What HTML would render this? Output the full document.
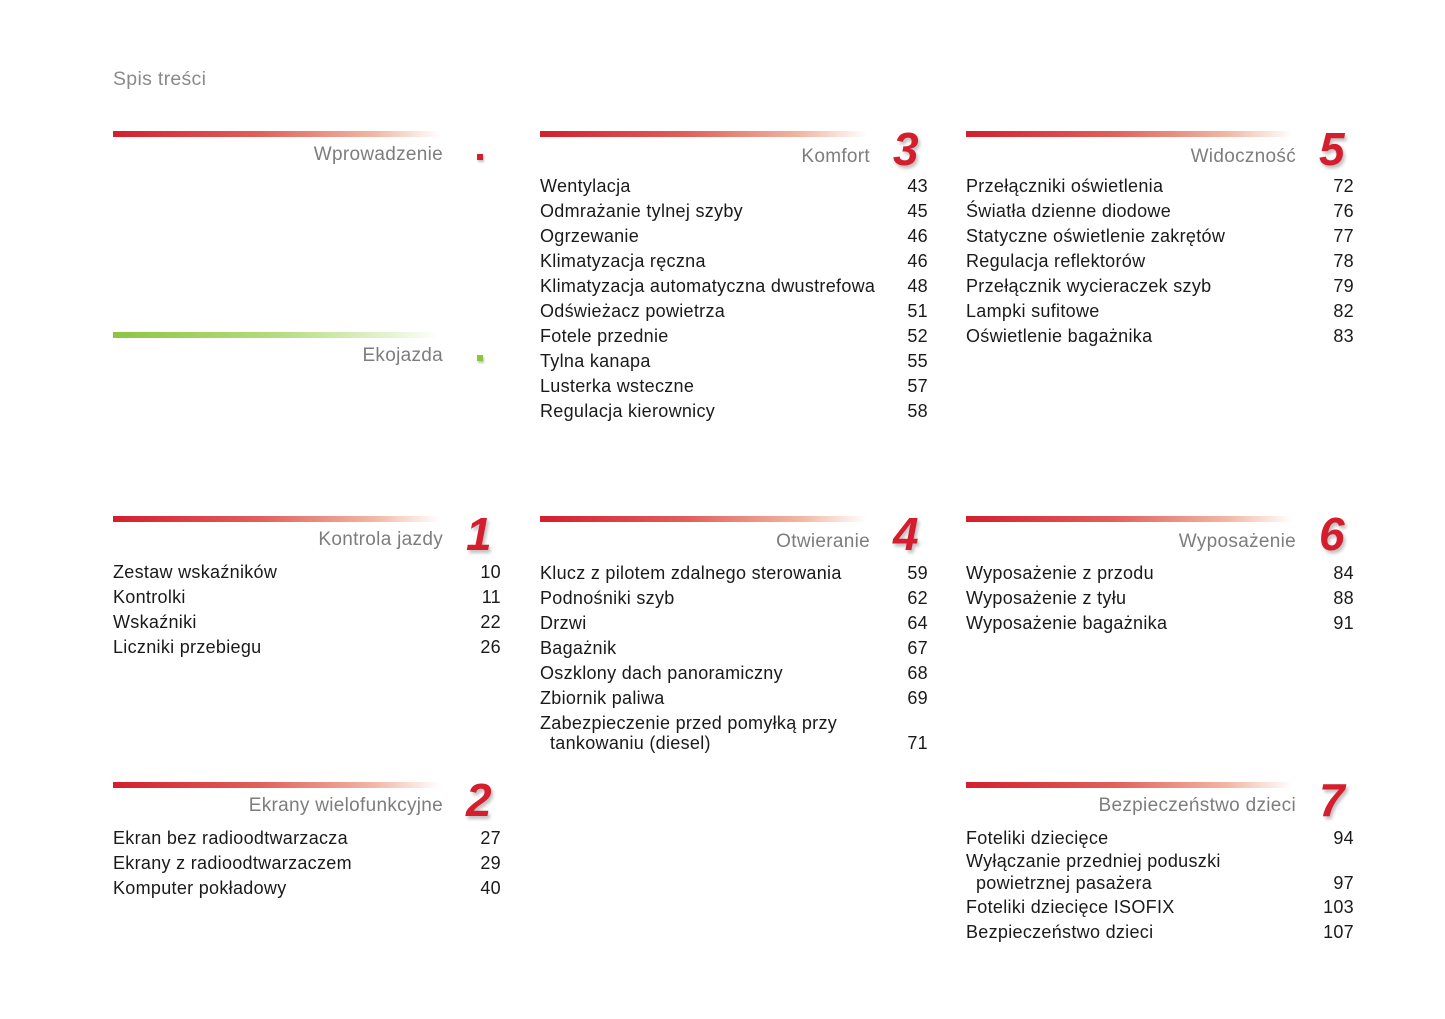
<!DOCTYPE html>
<html><head><meta charset="utf-8"><style>
body{margin:0;width:1445px;height:1019px;background:#fff;position:relative;font-family:"Liberation Sans",sans-serif;overflow:hidden}
.t{position:absolute;left:113px;top:68px;font-size:19.5px;color:#8a8a8a;letter-spacing:0.3px}
.s{position:absolute;width:388px}
.bar{position:absolute;left:0;top:0;width:327px;height:6px;background:linear-gradient(90deg,#d41e2d 0%,#e0605a 45%,#f2b7a5 80%,rgba(255,255,255,0) 100%)}
.bar.g{background:linear-gradient(90deg,#8cc63f 0%,#b5dc7e 50%,#e6f3d3 85%,rgba(255,255,255,0) 100%)}
.h{position:absolute;right:58px;top:13px;font-size:19px;color:#7d7d7d;white-space:nowrap;letter-spacing:0.3px}
.n{position:absolute;left:353px;top:-9px;font-size:46px;font-weight:bold;font-style:italic;color:#d41e2d;text-shadow:2px 3px 3px rgba(0,0,0,.25)}
.dot{position:absolute;left:364px;top:23px;width:6px;height:6px;background:#d41e2d;box-shadow:1px 2px 2px rgba(0,0,0,.25)}
.dot.g{background:#8cc63f}
.l{position:absolute;left:0;top:43px;width:388px;font-size:18px;color:#1a1a1a;letter-spacing:0.3px}
.r{display:flex;justify-content:space-between;height:25px;line-height:25px;white-space:nowrap}
.r2{height:20px;line-height:20px;white-space:nowrap}
.ind{padding-left:10px}
</style></head><body>
<div class="t">Spis treści</div>

<div class="s" style="left:113px;top:131px"><div class="bar"></div><div class="h">Wprowadzenie</div><div class="dot"></div></div>
<div class="s" style="left:113px;top:332px"><div class="bar g"></div><div class="h">Ekojazda</div><div class="dot g"></div></div>

<div class="s" style="left:540px;top:131px"><div class="bar"></div><div class="h" style="top:15px">Komfort</div><div class="n">3</div>
<div class="l">
<div class="r"><span>Wentylacja</span><span>43</span></div>
<div class="r"><span>Odmrażanie tylnej szyby</span><span>45</span></div>
<div class="r"><span>Ogrzewanie</span><span>46</span></div>
<div class="r"><span>Klimatyzacja ręczna</span><span>46</span></div>
<div class="r"><span>Klimatyzacja automatyczna dwustrefowa</span><span>48</span></div>
<div class="r"><span>Odświeżacz powietrza</span><span>51</span></div>
<div class="r"><span>Fotele przednie</span><span>52</span></div>
<div class="r"><span>Tylna kanapa</span><span>55</span></div>
<div class="r"><span>Lusterka wsteczne</span><span>57</span></div>
<div class="r"><span>Regulacja kierownicy</span><span>58</span></div>
</div></div>

<div class="s" style="left:966px;top:131px"><div class="bar"></div><div class="h" style="top:15px">Widoczność</div><div class="n">5</div>
<div class="l">
<div class="r"><span>Przełączniki oświetlenia</span><span>72</span></div>
<div class="r"><span>Światła dzienne diodowe</span><span>76</span></div>
<div class="r"><span>Statyczne oświetlenie zakrętów</span><span>77</span></div>
<div class="r"><span>Regulacja reflektorów</span><span>78</span></div>
<div class="r"><span>Przełącznik wycieraczek szyb</span><span>79</span></div>
<div class="r"><span>Lampki sufitowe</span><span>82</span></div>
<div class="r"><span>Oświetlenie bagażnika</span><span>83</span></div>
</div></div>

<div class="s" style="left:113px;top:516px"><div class="bar"></div><div class="h">Kontrola jazdy</div><div class="n">1</div>
<div class="l" style="top:44px">
<div class="r"><span>Zestaw wskaźników</span><span>10</span></div>
<div class="r"><span>Kontrolki</span><span>11</span></div>
<div class="r"><span>Wskaźniki</span><span>22</span></div>
<div class="r"><span>Liczniki przebiegu</span><span>26</span></div>
</div></div>

<div class="s" style="left:540px;top:516px"><div class="bar"></div><div class="h" style="top:15px">Otwieranie</div><div class="n">4</div>
<div class="l" style="top:45px">
<div class="r"><span>Klucz z pilotem zdalnego sterowania</span><span>59</span></div>
<div class="r"><span>Podnośniki szyb</span><span>62</span></div>
<div class="r"><span>Drzwi</span><span>64</span></div>
<div class="r"><span>Bagażnik</span><span>67</span></div>
<div class="r"><span>Oszklony dach panoramiczny</span><span>68</span></div>
<div class="r"><span>Zbiornik paliwa</span><span>69</span></div>
<div class="r2" style="margin-top:2px">Zabezpieczenie przed pomyłką przy</div>
<div class="r" style="height:20px;line-height:20px"><span class="ind">tankowaniu (diesel)</span><span>71</span></div>
</div></div>

<div class="s" style="left:966px;top:516px"><div class="bar"></div><div class="h" style="top:15px">Wyposażenie</div><div class="n">6</div>
<div class="l" style="top:45px">
<div class="r"><span>Wyposażenie z przodu</span><span>84</span></div>
<div class="r"><span>Wyposażenie z tyłu</span><span>88</span></div>
<div class="r"><span>Wyposażenie bagażnika</span><span>91</span></div>
</div></div>

<div class="s" style="left:113px;top:782px"><div class="bar"></div><div class="h">Ekrany wielofunkcyjne</div><div class="n">2</div>
<div class="l" style="top:44px">
<div class="r"><span>Ekran bez radioodtwarzacza</span><span>27</span></div>
<div class="r"><span>Ekrany z radioodtwarzaczem</span><span>29</span></div>
<div class="r"><span>Komputer pokładowy</span><span>40</span></div>
</div></div>

<div class="s" style="left:966px;top:782px"><div class="bar"></div><div class="h">Bezpieczeństwo dzieci</div><div class="n">7</div>
<div class="l" style="top:44px">
<div class="r"><span>Foteliki dziecięce</span><span>94</span></div>
<div class="r2">Wyłączanie przedniej poduszki</div>
<div class="r" style="height:24px;line-height:24px"><span class="ind">powietrznej pasażera</span><span>97</span></div>
<div class="r"><span>Foteliki dziecięce ISOFIX</span><span>103</span></div>
<div class="r"><span>Bezpieczeństwo dzieci</span><span>107</span></div>
</div></div>
</body></html>
